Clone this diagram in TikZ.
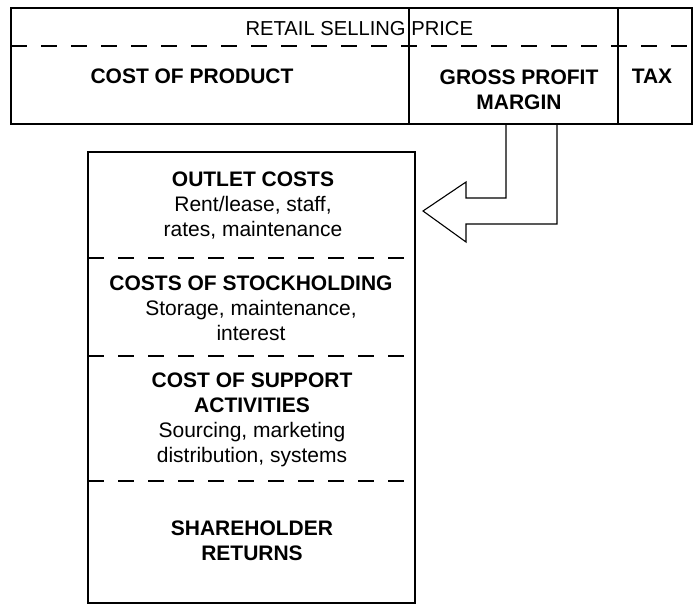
\documentclass[tikz,border=0pt]{standalone}
\usepackage{fontspec}
\setmainfont{Liberation Sans}
\usepackage{tikz}

\begin{document}
\begin{tikzpicture}[x=1pt,y=-1pt,line width=1.1pt,
  sep/.style={dash pattern=on 16pt off 14pt},
  txt/.style={align=center,inner sep=0pt,font=\fontsize{21}{25}\selectfont}]
\useasboundingbox (0,0) rectangle (699,605);

\draw (11,8) rectangle (692,124);
\draw[sep] (11,46) -- (692,46);
\draw (409,8) -- (409,124);
\draw (618,8) -- (618,124);

\node[txt,anchor=base west,font=\fontsize{20.2}{25}\selectfont] (price) at (245,35) {RETAIL SELLING PRICE};
\node[txt] (product) at (192,76) {\textbf{COST OF PRODUCT}};
\node[txt] (margin) at (519,90) {\textbf{GROSS PROFIT}\\\textbf{MARGIN}};
\node[txt] (tax) at (652,76) {\textbf{TAX}};

\draw (88,152) rectangle (415,603);
\draw[sep] (88,258) -- (415,258);
\draw[sep] (88,356) -- (415,356);
\draw[sep] (88,481) -- (415,481);

\draw (506,124) -- (506,198) -- (466,198) -- (466,182) -- (423,211)
  -- (466,242) -- (466,224) -- (557,224) -- (557,124);

\node[txt] (outlet) at (253,206) {\textbf{OUTLET COSTS}\\Rent/lease, staff,\\rates, maintenance};
\node[txt] (stock) at (251,308) {\textbf{COSTS OF STOCKHOLDING}\\Storage, maintenance,\\interest};
\node[txt] (support) at (252,420) {\textbf{COST OF SUPPORT}\\\textbf{ACTIVITIES}\\Sourcing, marketing\\distribution, systems};
\node[txt] (returns) at (252,541) {\textbf{SHAREHOLDER}\\\textbf{RETURNS}};
\end{tikzpicture}
\end{document}
